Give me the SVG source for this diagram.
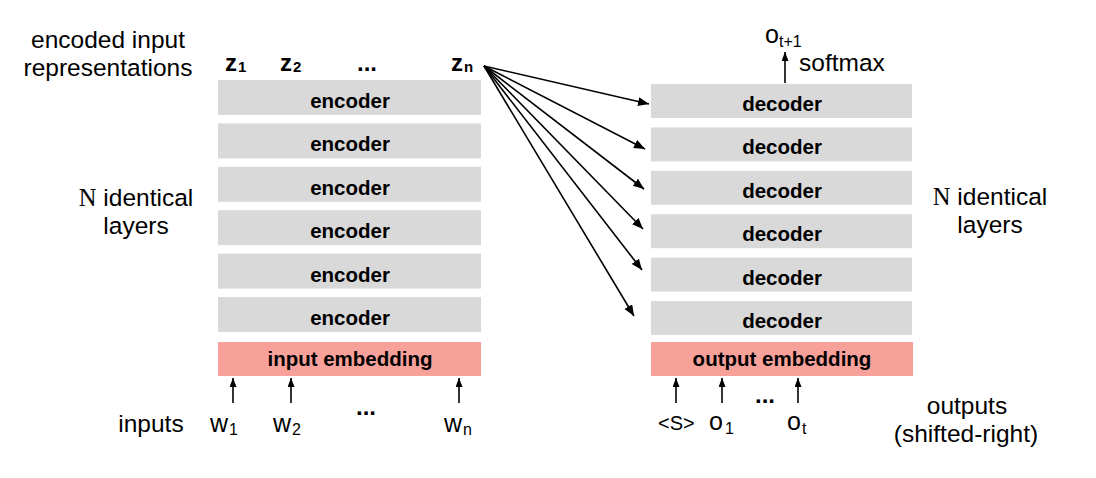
<svg xmlns="http://www.w3.org/2000/svg" width="1096" height="478" viewBox="0 0 1096 478">
<style>
text{font-family:"Liberation Sans",Arial,sans-serif;fill:#000}
.lbl{font-size:24.5px}
.box{fill:#d9d9d9}
.emb{fill:#f8a19a}
.bt{font-size:20.5px;font-weight:bold;text-anchor:middle}
.z{font-size:24px;font-weight:bold}
.zs{font-size:15px;font-weight:bold}
.w{font-size:25px}
.ws{font-size:16px}
.c{text-anchor:middle}
.ser{font-family:"Liberation Serif","Times New Roman",serif}
.con line{stroke:#000;stroke-width:1.6}
</style>
<defs>
<marker id="ah" markerUnits="userSpaceOnUse" markerWidth="12" markerHeight="10" refX="11" refY="4.5" orient="auto"><path d="M0,0 L11,4.5 L0,9 z" fill="#000"/></marker>
<marker id="as" markerUnits="userSpaceOnUse" markerWidth="10" markerHeight="8" refX="9" refY="3.5" orient="auto"><path d="M0,0 L9,3.5 L0,7 z" fill="#000"/></marker>
</defs>
<rect width="1096" height="478" fill="#fff"/>

<g id="left-labels">
<text class="lbl c" x="108" y="48">encoded input</text>
<text class="lbl c" x="108" y="76">representations</text>
<text class="lbl c" x="136" y="206"><tspan class="ser">N</tspan> identical</text>
<text class="lbl c" x="136" y="234">layers</text>
<text class="lbl c" x="151" y="432">inputs</text>
</g>

<g id="right-labels">
<text class="lbl c" x="990" y="205"><tspan class="ser">N</tspan> identical</text>
<text class="lbl c" x="990" y="233">layers</text>
<text class="lbl c" x="967" y="414">outputs</text>
<text class="lbl c" x="966" y="442">(shifted-right)</text>
<text class="lbl" x="799" y="71">softmax</text>
</g>

<g id="z-labels">
<text class="z" x="225" y="71">z</text><text class="zs" x="238" y="72">1</text>
<text class="z" x="280" y="71">z</text><text class="zs" x="293" y="72">2</text>
<text class="z" x="357" y="71">...</text>
<text class="z" x="451" y="71">z</text><text class="zs" x="464" y="72">n</text>
</g>

<g id="encoder-1"><rect class="box" x="218" y="80" width="263" height="35"/><text class="bt" x="350" y="108">encoder</text></g>
<g id="encoder-2"><rect class="box" x="218" y="123.4" width="263" height="35"/><text class="bt" x="350" y="151.4">encoder</text></g>
<g id="encoder-3"><rect class="box" x="218" y="166.8" width="263" height="35"/><text class="bt" x="350" y="194.8">encoder</text></g>
<g id="encoder-4"><rect class="box" x="218" y="210.2" width="263" height="35"/><text class="bt" x="350" y="238.2">encoder</text></g>
<g id="encoder-5"><rect class="box" x="218" y="253.6" width="263" height="35"/><text class="bt" x="350" y="281.6">encoder</text></g>
<g id="encoder-6"><rect class="box" x="218" y="297" width="263" height="35"/><text class="bt" x="350" y="325">encoder</text></g>
<g id="input-embedding"><rect class="emb" x="218" y="342" width="263" height="34"/><text class="bt" x="350" y="366">input embedding</text></g>

<g id="decoder-1"><rect class="box" x="651" y="84" width="261" height="34"/><text class="bt" x="782" y="111">decoder</text></g>
<g id="decoder-2"><rect class="box" x="651" y="127.4" width="261" height="34"/><text class="bt" x="782" y="154.4">decoder</text></g>
<g id="decoder-3"><rect class="box" x="651" y="170.8" width="261" height="34"/><text class="bt" x="782" y="197.8">decoder</text></g>
<g id="decoder-4"><rect class="box" x="651" y="214.2" width="261" height="34"/><text class="bt" x="782" y="241.2">decoder</text></g>
<g id="decoder-5"><rect class="box" x="651" y="257.6" width="261" height="34"/><text class="bt" x="782" y="284.6">decoder</text></g>
<g id="decoder-6"><rect class="box" x="651" y="301" width="261" height="34"/><text class="bt" x="782" y="328">decoder</text></g>
<g id="output-embedding"><rect class="emb" x="651" y="342" width="262" height="34"/><text class="bt" x="782" y="366">output embedding</text></g>

<g id="inputs">
<text class="w" x="210" y="432">w</text><text class="ws" x="229" y="435">1</text>
<text class="w" x="273" y="432">w</text><text class="ws" x="292" y="435">2</text>
<text class="z" x="356" y="415">...</text>
<text class="w" x="444" y="432">w</text><text class="ws" x="463" y="435">n</text>
</g>

<g id="outputs">
<text x="658" y="430" style="font-size:20px">&lt;S&gt;</text>
<text class="w" x="709" y="430">o</text><text class="ws" x="725" y="434">1</text>
<text class="z" x="755" y="403">...</text>
<text class="w" x="787" y="430">o</text><text class="ws" x="802" y="434">t</text>
<text class="w" x="765" y="43">o</text><text class="ws" x="779" y="47">t+1</text>
</g>

<g id="connectors" class="con">
<line x1="484" y1="66" x2="649" y2="104" marker-end="url(#ah)"/>
<line x1="484" y1="66" x2="645" y2="149" marker-end="url(#ah)"/>
<line x1="484" y1="66" x2="644" y2="189" marker-end="url(#ah)"/>
<line x1="484" y1="66" x2="643" y2="229" marker-end="url(#ah)"/>
<line x1="484" y1="66" x2="642" y2="270" marker-end="url(#ah)"/>
<line x1="484" y1="66" x2="634" y2="316" marker-end="url(#ah)"/>
<line x1="233" y1="403" x2="233" y2="378" marker-end="url(#as)"/>
<line x1="291" y1="403" x2="291" y2="378" marker-end="url(#as)"/>
<line x1="459" y1="403" x2="459" y2="378" marker-end="url(#as)"/>
<line x1="676" y1="403" x2="676" y2="378" marker-end="url(#as)"/>
<line x1="722" y1="403" x2="722" y2="378" marker-end="url(#as)"/>
<line x1="798" y1="403" x2="798" y2="378" marker-end="url(#as)"/>
<line x1="785" y1="83" x2="785" y2="52" marker-end="url(#as)"/>
</g>
</svg>
